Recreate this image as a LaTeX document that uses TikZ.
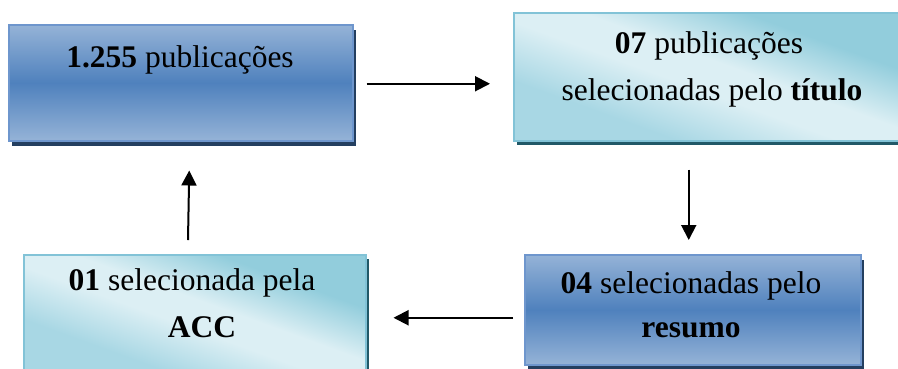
\documentclass[tikz,border=0pt]{standalone}
\usepackage{fontspec}
\setmainfont{Liberation Serif}
\usetikzlibrary{arrows.meta,shadows}
\definecolor{blueL}{RGB}{149,179,215}
\definecolor{blueD}{RGB}{79,129,189}
\definecolor{blueB}{RGB}{110,150,205}
\definecolor{blueS}{RGB}{36,63,96}
\definecolor{tealL}{RGB}{220,239,244}
\definecolor{tealD}{RGB}{146,205,220}
\definecolor{tealM}{RGB}{168,215,228}
\definecolor{tealB}{RGB}{130,195,215}
\definecolor{tealS}{RGB}{33,89,104}
\pgfdeclarehorizontalshading{tealdiag}{100bp}{color(0bp)=(tealM); color(32bp)=(tealM); color(46bp)=(tealL); color(54bp)=(tealL); color(68bp)=(tealD); color(100bp)=(tealD)}
\begin{document}
\begin{tikzpicture}[x=1pt,y=-1pt,
 darkbox/.style={draw=blueB, line width=1.5pt, top color=blueL, bottom color=blueL, middle color=blueD,
   general shadow={fill=blueS, shadow xshift=3.5pt, shadow yshift=-5pt}, inner sep=0pt, anchor=north west},
 lightbox/.style={draw=tealB, line width=1.5pt, shading=tealdiag, shading angle=70,
   general shadow={fill=tealS, shadow xshift=3pt, shadow yshift=-4.5pt}, inner sep=0pt, anchor=north west},
 txt/.style={anchor=base, inner sep=0pt, font=\fontsize{31.5}{40}\selectfont},
 arr/.style={line width=2pt, -{Triangle[length=15pt,width=15pt]}}]
\useasboundingbox (0,0) rectangle (898,368);
\clip (0,0) rectangle (898,368);
\node[darkbox, minimum width=344pt, minimum height=116pt] (b1) at (8,24) {};
\node[lightbox, minimum width=396pt, minimum height=128pt] (b2) at (513,12) {};
\node[lightbox, minimum width=342pt, minimum height=118pt] (b3) at (23,254) {};
\node[darkbox, minimum width=336pt, minimum height=110pt] (b4) at (524,254) {};
\node[txt] (t1) at (180,67) {\textbf{1.255} publicações};
\node[txt] (t2a) at (709,53) {\textbf{07} publicações};
\node[txt] (t2b) at (712,100) {selecionadas pelo \textbf{título}};
\node[txt] (t3a) at (192,290) {\textbf{01} selecionada pela};
\node[txt] (t3b) at (202,337) {\textbf{ACC}};
\node[txt] (t4a) at (691,293) {\textbf{04} selecionadas pelo};
\node[txt] (t4b) at (691,337) {\textbf{resumo}};
\draw[arr, shorten <=13pt, shorten >=23pt] ([yshift=-1pt]b1.east) -- ([yshift=-1pt]b1.east -| b2.west);
\draw[arr, shorten <=28pt, shorten >=14pt] ([xshift=-23pt]b2.south) -- ([xshift=-4pt]b4.north);
\draw[arr, shorten <=11pt, shorten >=27pt] ([yshift=-8pt]b4.west) -- ([yshift=-8pt]b4.west -| b3.east);
\draw[arr, shorten <=14pt, shorten >=29pt] ([xshift=-7pt]b3.north) -- ([xshift=9pt]b1.south);
\end{tikzpicture}
\end{document}
